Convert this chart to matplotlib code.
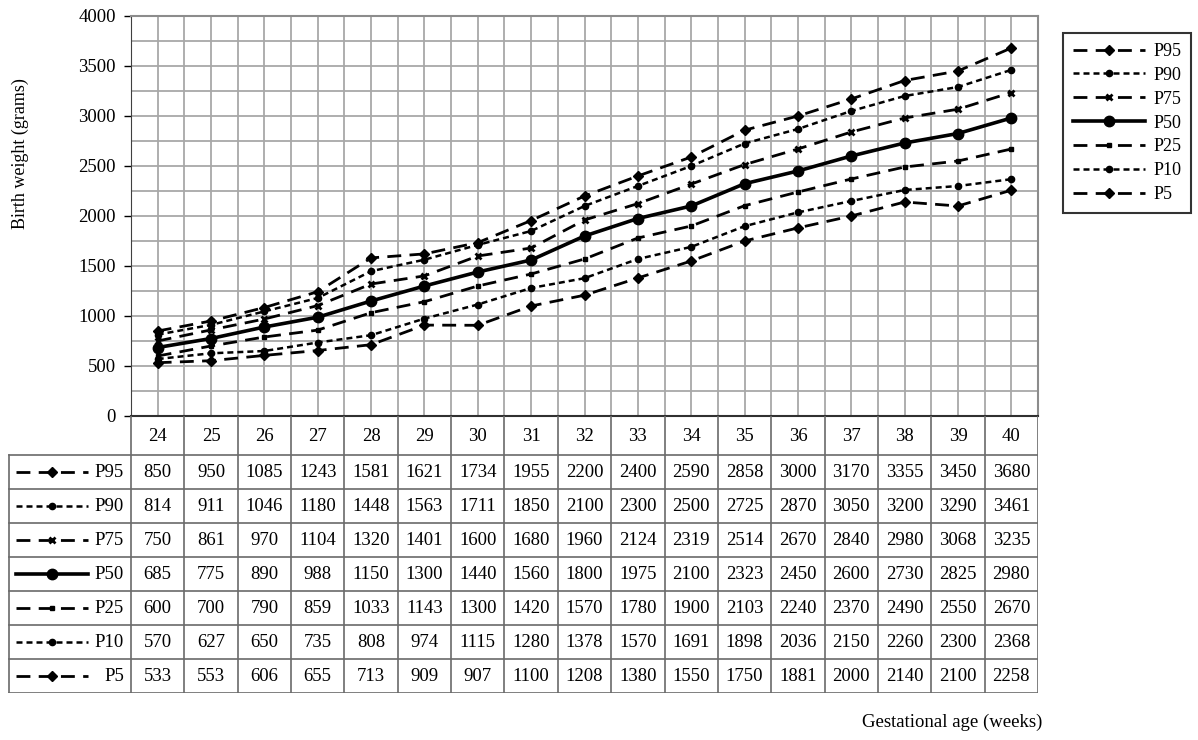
import matplotlib
matplotlib.use("Agg")
import matplotlib.pyplot as plt
from matplotlib.lines import Line2D

plt.rcParams['font.family'] = ['Liberation Serif', 'DejaVu Serif']

weeks = [24, 25, 26, 27, 28, 29, 30, 31, 32, 33, 34, 35, 36, 37, 38, 39, 40]
series_names = ["P95", "P90", "P75", "P50", "P25", "P10", "P5"]
p95 = [850, 950, 1085, 1243, 1581, 1621, 1734, 1955, 2200, 2400, 2590, 2858, 3000, 3170, 3355, 3450, 3680]
p90 = [814, 911, 1046, 1180, 1448, 1563, 1711, 1850, 2100, 2300, 2500, 2725, 2870, 3050, 3200, 3290, 3461]
p75 = [750, 861, 970, 1104, 1320, 1401, 1600, 1680, 1960, 2124, 2319, 2514, 2670, 2840, 2980, 3068, 3235]
p50 = [685, 775, 890, 988, 1150, 1300, 1440, 1560, 1800, 1975, 2100, 2323, 2450, 2600, 2730, 2825, 2980]
p25 = [600, 700, 790, 859, 1033, 1143, 1300, 1420, 1570, 1780, 1900, 2103, 2240, 2370, 2490, 2550, 2670]
p10 = [570, 627, 650, 735, 808, 974, 1115, 1280, 1378, 1570, 1691, 1898, 2036, 2150, 2260, 2300, 2368]
p5 = [533, 553, 606, 655, 713, 909, 907, 1100, 1208, 1380, 1550, 1750, 1881, 2000, 2140, 2100, 2258]
series_values = [p95, p90, p75, p50, p25, p10, p5]
y_ticks = [0, 500, 1000, 1500, 2000, 2500, 3000, 3500, 4000]

long_dash = (0, (5, 3))
short_dash = (0, (2.4, 1.6))
styles = {
    "P95": dict(ls=long_dash, lw=2, marker="D", ms=5),
    "P90": dict(ls=short_dash, lw=1.8, marker="o", ms=4.5),
    "P75": dict(ls=long_dash, lw=2, marker="x", ms=4, mew=2),
    "P50": dict(ls="-", lw=2.6, marker="o", ms=7.5),
    "P25": dict(ls=long_dash, lw=2, marker="s", ms=3.5),
    "P10": dict(ls=short_dash, lw=1.8, marker="o", ms=4.5),
    "P5": dict(ls=long_dash, lw=2, marker="D", ms=5),
}
FS = 13.5

W, H = 1198, 740
fig = plt.figure(figsize=(W / 100, H / 100), dpi=100)

def fx(px):
    return px / W

def fy(py):
    return 1 - py / H

left, right, top, bottom = 131, 1038, 16, 416
ax = fig.add_axes([fx(left), fy(bottom), fx(right - left), fy(top) - fy(bottom)])
xs = list(range(len(weeks)))
for name, vals in zip(series_names, series_values):
    st = styles[name]
    ax.plot(xs, vals, color="black", linestyle=st["ls"], lw=st["lw"], marker=st["marker"],
            ms=st["ms"], mew=st.get("mew", 1), label=name, zorder=3)
ax.set_xlim(-0.5, len(weeks) - 0.5)
ax.set_ylim(0, 4000)
ax.set_yticks(y_ticks)
ax.set_yticklabels([str(v) for v in y_ticks], fontsize=FS)
ax.set_yticks([v + 250 for v in y_ticks[:-1]], minor=True)
ax.set_xticks([i * 0.5 - 0.5 for i in range(2 * len(weeks) + 1)])
ax.set_xticklabels([])
ax.tick_params(axis="x", length=0)
ax.tick_params(axis="y", which="major", length=5, width=1, direction="out", pad=6)
ax.tick_params(axis="y", which="minor", length=0)
ax.grid(True, which="both", color="#a8a8a8", lw=1.3, zorder=0)
ax.set_axisbelow(True)
for s in ["top", "right"]:
    ax.spines[s].set_color("#8c8c8c")
    ax.spines[s].set_linewidth(1.5)
ax.spines["left"].set_color("#404040")
ax.spines["bottom"].set_color("#303030")
ax.spines["bottom"].set_linewidth(1.5)
fig.text(fx(20), fy(154), "Birth weight (grams)", rotation=90, ha="center", va="center", fontsize=13)

# Legend
handles = [Line2D([0], [0], color="black", linestyle=styles[n]["ls"], lw=styles[n]["lw"],
                  marker=styles[n]["marker"], ms=styles[n]["ms"], mew=styles[n].get("mew", 1))
           for n in series_names]
leg = fig.legend(handles, series_names, loc="upper left",
                 bbox_to_anchor=(fx(1063), fy(33)), borderaxespad=0, frameon=True, fancybox=False,
                 edgecolor="black", fontsize=13, handlelength=4.0, numpoints=1,
                 labelspacing=0.38, borderpad=0.55, handletextpad=0.45)
leg.get_frame().set_linewidth(1.5)

# Data table
tleft, tbottom = 8, 693
cat_w = (right - left) / len(weeks)
L = (left - tleft) / cat_w
tax = fig.add_axes([fx(tleft), fy(tbottom), fx(right - tleft), fy(bottom) - fy(tbottom)])
h0 = 39 / 34.5
nrows = len(series_names)
tax.set_xlim(-0.5 - L, len(weeks) - 0.5)
tax.set_ylim(h0 + nrows, 0)
tax.axis("off")
lc = "#6a6a6a"
for i in range(len(weeks) + 1):
    tax.plot([i - 0.5, i - 0.5], [0, h0 + nrows], color=lc, lw=1.2)
tax.plot([-0.5 - L + 0.02, -0.5 - L + 0.02], [h0, h0 + nrows], color=lc, lw=1.2)
for r in range(nrows + 1):
    y = h0 + r
    tax.plot([-0.5 - L + 0.02, len(weeks) - 0.5], [y, y], color=lc, lw=1.2)
for i, w in enumerate(weeks):
    tax.text(i, h0 / 2 + 0.03, str(w), ha="center", va="center", fontsize=FS)
px_to_x = lambda px: -0.5 - (left - px) / cat_w
for r, (name, vals) in enumerate(zip(series_names, series_values)):
    yc = h0 + r + 0.5
    st = styles[name]
    tax.plot([px_to_x(16), px_to_x(88)], [yc, yc], color="black", linestyle=st["ls"], lw=st["lw"])
    tax.plot([px_to_x(52)], [yc], color="black", marker=st["marker"], ms=st["ms"], mew=st.get("mew", 1))
    tax.text(px_to_x(124), yc + 0.02, name, ha="right", va="center", fontsize=FS)
    for i, v in enumerate(vals):
        tax.text(i, yc + 0.03, str(v), ha="center", va="center", fontsize=FS)

fig.text(fx(1042), fy(722), "Gestational age (weeks)", ha="right", va="center", fontsize=13.5)

fig.savefig("out.png", dpi=100)
